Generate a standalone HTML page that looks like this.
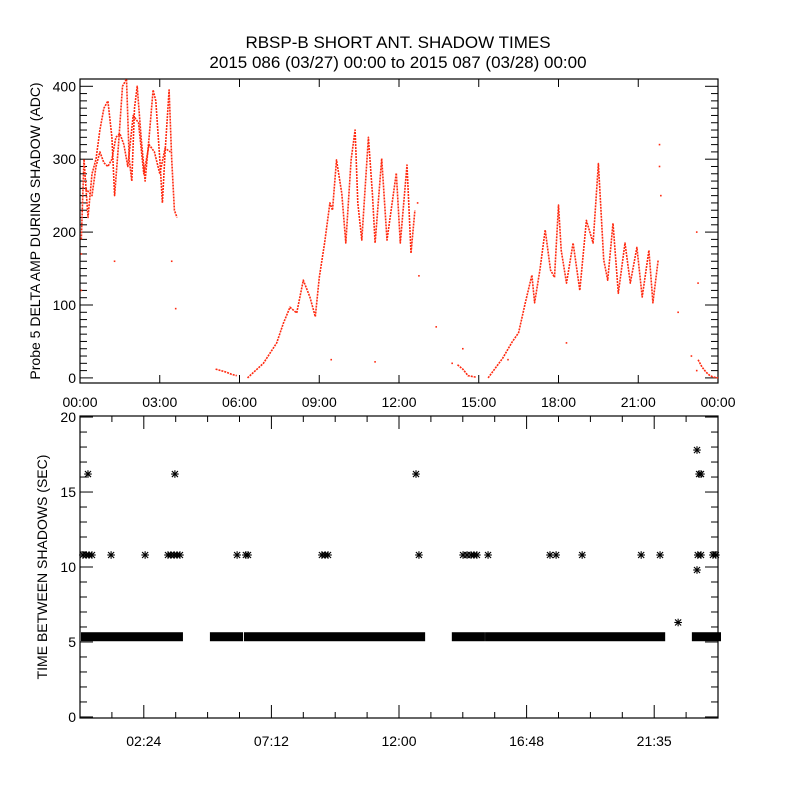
<!DOCTYPE html>
<html><head><meta charset="utf-8">
<style>
html,body{margin:0;padding:0;background:#fff;}
svg{display:block;font-family:"Liberation Sans",sans-serif;}
</style></head>
<body>
<svg id="chart" width="800" height="800" viewBox="0 0 800 800" xmlns="http://www.w3.org/2000/svg">
<rect width="800" height="800" fill="#fff"/>
<text x="398" y="48" font-size="17" text-anchor="middle">RBSP-B SHORT ANT. SHADOW TIMES</text>
<text x="398" y="68" font-size="17" text-anchor="middle">2015 086 (03/27) 00:00 to 2015 087 (03/28) 00:00</text>
<text transform="translate(40,231) rotate(-90)" font-size="14" text-anchor="middle">Probe 5 DELTA AMP DURING SHADOW (ADC)</text>
<text transform="translate(47,567) rotate(-90)" font-size="14" text-anchor="middle">TIME BETWEEN SHADOWS (SEC)</text>
<g id="topPanel"></g>
<g id="botPanel"></g>
</svg>
<script>
// ---- data: top panel (hour, ADC) traces ----
const ampTrace1Hours = [0.05,0.15,0.3,0.45,0.6,0.75,0.9,1.05,1.2,1.3,1.45,1.6,1.75,1.85,1.95,2.05,2.15,2.3,2.45,2.6,2.75,2.85,3.0,3.1,3.2,3.35,3.45,3.55,3.65];
const ampTrace1Values = [190,300,220,280,300,340,370,380,330,250,320,400,410,300,270,370,400,330,270,330,395,380,300,240,310,395,300,230,220];
const ampTrace2Hours = [0.2,0.45,0.6,0.75,0.9,1.05,1.2,1.35,1.5,1.65,1.8,2.0,2.2,2.4,2.6,2.8,3.0,3.2,3.4];
const ampTrace2Values = [260,250,290,310,295,290,300,330,335,320,290,360,350,280,320,310,280,315,310];
const ampTrace3Hours = [5.1,5.3,5.5,5.7,5.9];
const ampTrace3Values = [12,10,8,5,3];
const ampTrace4Hours = [6.3,6.9,7.4,7.65,7.9,8.15,8.4,8.65,8.85,9.0,9.2,9.4,9.5,9.65,9.85,10.0,10.2,10.35,10.45,10.6,10.85,11.0,11.1,11.35,11.55,11.9,12.05,12.3,12.45,12.6];
const ampTrace4Values = [0,20,48,75,97,89,134,111,84,138,185,240,230,299,253,185,299,340,240,189,330,253,185,301,189,281,185,292,171,230];
const ampTrace5Hours = [14.2,14.4,14.6,14.9];
const ampTrace5Values = [18,12,3,1];
const ampTrace6Hours = [15.35,15.9,16.25,16.5,16.75,17.0,17.1,17.3,17.5,17.7,17.85,18.0,18.1,18.3,18.55,18.8,19.05,19.3,19.5,19.7,19.85,20.05,20.25,20.5,20.7,20.95,21.15,21.4,21.55,21.75];
const ampTrace6Values = [0,27,49,62,103,141,103,148,203,148,138,237,175,130,185,120,216,185,294,162,134,212,116,185,130,179,111,175,103,162];
const ampTrace7Hours = [23.25,23.4,23.55,23.7,23.85,24.0];
const ampTrace7Values = [25,15,8,3,1,0];
const ampDotHours = [1.3,3.45,3.6,0.05,0.05,9.45,11.1,12.7,12.75,13.4,14.0,14.4,16.1,18.3,21.8,21.8,21.85,22.5,23.0,23.2,23.2,23.25];
const ampDotValues = [160,160,95,170,120,25,22,240,140,70,20,40,25,48,320,290,250,90,30,10,200,130];

// ---- data: bottom panel ----
const bandStartHours = [0.15,5.0,6.28,14.1,15.35,23.13];
const bandEndHours = [3.76,6.02,12.87,15.12,21.9,24.0];
const bandValue = 5.35;
const starHours = [0.11,0.23,0.34,0.45,1.17,2.45,3.31,3.42,3.54,3.65,3.76,5.91,6.24,6.32,9.10,9.22,9.33,12.75,14.41,14.56,14.71,14.82,14.93,15.35,17.68,17.91,18.89,21.11,21.82,23.24,23.36,23.81,23.92,0.30,3.57,12.64,23.29,23.36,23.21,23.21,22.50];
const starValues = [10.8,10.8,10.8,10.8,10.8,10.8,10.8,10.8,10.8,10.8,10.8,10.8,10.8,10.8,10.8,10.8,10.8,10.8,10.8,10.8,10.8,10.8,10.8,10.8,10.8,10.8,10.8,10.8,10.8,10.8,10.8,10.8,10.8,16.2,16.2,16.2,16.2,16.2,17.8,9.8,6.3];
const topXTickLabels = ["00:00","03:00","06:00","09:00","12:00","15:00","18:00","21:00","00:00"];
const topYTickLabels = ["0","100","200","300","400"];
const botXTickLabels = ["02:24","07:12","12:00","16:48","21:35"];
const botYTickLabels = ["0","5","10","15","20"];

const NS = "http://www.w3.org/2000/svg";
const X0 = 80, X1 = 718;
const TP = {top: 79, bottom: 383, vmin: -7, vmax: 410};
const BP = {top: 416, bottom: 718, vmin: -0.07, vmax: 20.07};
function xs(h){ return X0 + h/24*(X1-X0); }
function ty(v){ return TP.bottom - (v-TP.vmin)/(TP.vmax-TP.vmin)*(TP.bottom-TP.top); }
function by(v){ return BP.bottom - (v-BP.vmin)/(BP.vmax-BP.vmin)*(BP.bottom-BP.top); }
function mk(tag, attrs, parent){
  const e = document.createElementNS(NS, tag);
  for (const k in attrs) e.setAttribute(k, attrs[k]);
  parent.appendChild(e); return e;
}
const topG = document.getElementById('topPanel');
const botG = document.getElementById('botPanel');

// frames
let f1 = mk('rect',{x:X0,y:TP.top,width:X1-X0,height:TP.bottom-TP.top,fill:'none',stroke:'#000','stroke-width':1.2},topG);


let f2 = mk('rect',{x:X0,y:BP.top,width:X1-X0,height:BP.bottom-BP.top,fill:'none',stroke:'#000','stroke-width':1.2},botG);



// top axis ticks
for (let v=0; v<=400; v+=10){
  const L = (v%100===0)?13:7, y = ty(v);
  let t = mk('line',{x1:X0,x2:X0+L,y1:y,y2:y,stroke:'#000'},topG);
  
  
  let t2 = mk('line',{x1:X1,x2:X1-L,y1:y,y2:y,stroke:'#000'},topG);
  
  
}
topYTickLabels.forEach((s,i)=>{
  let t = mk('text',{x:X0-4,y:ty(i*100)+5,'font-size':14,'text-anchor':'end'},topG);
  t.textContent = s;
  
  
});
topXTickLabels.forEach((s,i)=>{
  const x = xs(i*3);
  let a = mk('line',{x1:x,x2:x,y1:TP.bottom,y2:TP.bottom-8,stroke:'#000'},topG);
  
  
  let b = mk('line',{x1:x,x2:x,y1:TP.top,y2:TP.top+8,stroke:'#000'},topG);
  
  
  let t = mk('text',{x:x,y:407,'font-size':14,'text-anchor':'middle'},topG);
  t.textContent = s;
  
  
});

// top traces
const traces = [[ampTrace1Hours,ampTrace1Values],[ampTrace2Hours,ampTrace2Values],[ampTrace3Hours,ampTrace3Values],[ampTrace4Hours,ampTrace4Values],[ampTrace5Hours,ampTrace5Values],[ampTrace6Hours,ampTrace6Values],[ampTrace7Hours,ampTrace7Values]];
traces.forEach((tr,i)=>{
  const pts = tr[0].map((h,j)=>xs(h).toFixed(1)+','+ty(tr[1][j]).toFixed(1)).join(' ');
  let p = mk('polyline',{points:pts,fill:'none',stroke:'#ff2a10','stroke-width':1.6,'stroke-dasharray':'2 1','stroke-linejoin':'round'},topG);
  
  
});
ampDotHours.forEach((h,i)=>{
  let r = mk('rect',{x:xs(h)-0.8,y:ty(ampDotValues[i])-0.8,width:1.6,height:1.6,fill:'#ff2a10'},topG);
  
  
});

// bottom axis ticks
for (let v=0; v<=20; v+=1){
  const L = (v%5===0)?13:7, y = by(v);
  let t = mk('line',{x1:X0,x2:X0+L,y1:y,y2:y,stroke:'#000'},botG);
  
  
  let t2 = mk('line',{x1:X1,x2:X1-L,y1:y,y2:y,stroke:'#000'},botG);
  
  
}
botYTickLabels.forEach((s,i)=>{
  let t = mk('text',{x:X0-4,y:by(i*5)+5,'font-size':14,'text-anchor':'end'},botG);
  t.textContent = s;
  
  
});
for (let k=1; k<20; k++){
  const h = k*1.2, x = xs(h), major = (k%4===2);
  const L = major?13:6;
  let a = mk('line',{x1:x,x2:x,y1:BP.bottom,y2:BP.bottom-L,stroke:'#000'},botG);
  
  
  let b = mk('line',{x1:x,x2:x,y1:BP.top,y2:BP.top+L,stroke:'#000'},botG);
  
  
}
botXTickLabels.forEach((s,i)=>{
  let t = mk('text',{x:xs(2.4+i*4.8),y:746,'font-size':14,'text-anchor':'middle'},botG);
  t.textContent = s;
  
  
});

// bands of dense asterisks
bandStartHours.forEach((h,i)=>{
  const x0 = xs(h)-3, x1 = xs(bandEndHours[i])+3, yc = by(bandValue);
  let r = mk('rect',{x:x0,y:yc-4.5,width:x1-x0,height:9,fill:'#000'},botG);
  
  
});
function star(cx,cy){
  const g = mk('g',{stroke:'#000','stroke-width':1.1},botG);
  
  
  const r = 3.8;
  mk('line',{x1:cx-r,x2:cx+r,y1:cy,y2:cy},g);
  mk('line',{x1:cx,x2:cx,y1:cy-r,y2:cy+r},g);
  mk('line',{x1:cx-r*0.8,x2:cx+r*0.8,y1:cy-r*0.8,y2:cy+r*0.8},g);
  mk('line',{x1:cx-r*0.8,x2:cx+r*0.8,y1:cy+r*0.8,y2:cy-r*0.8},g);
}
starHours.forEach((h,i)=>star(xs(h), by(starValues[i])));
</script>
</body></html>
